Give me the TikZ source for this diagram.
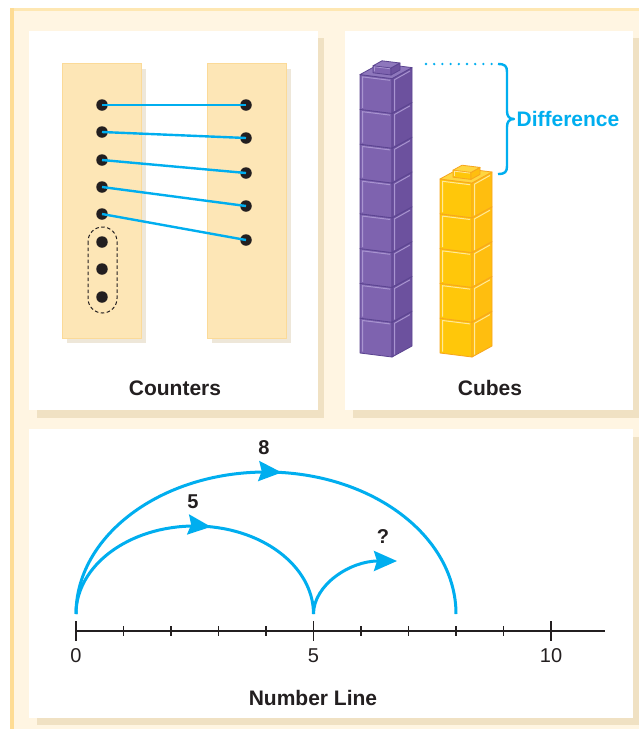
\documentclass[tikz,border=0pt]{standalone}
\usepackage{fontspec}
\setmainfont{Liberation Sans}
\usetikzlibrary{arrows.meta,decorations.markings}

% page colours
\definecolor{cream}{HTML}{FFF5E2}
\definecolor{framegold}{HTML}{FEDC94}
\definecolor{frametop}{HTML}{FEE7B2}
\definecolor{shadowtan}{HTML}{F0E1C3}
\definecolor{strip}{HTML}{FDE6B6}
\definecolor{stripedge}{HTML}{FBDA98}
\definecolor{stripshadow}{HTML}{EEE7D9}
\definecolor{cyanline}{HTML}{00AEEF}
\definecolor{ink}{HTML}{231F20}
% purple cubes
\definecolor{pfront}{HTML}{7E63AF}
\definecolor{pside}{HTML}{6C519E}
\definecolor{ptop}{HTML}{8E77BC}
\definecolor{pedge}{HTML}{5B4490}
\definecolor{phl}{HTML}{A894D0}
% yellow cubes
\definecolor{yfront}{HTML}{FFC70A}
\definecolor{yside}{HTML}{FFBE0F}
\definecolor{ytop}{HTML}{FFD640}
\definecolor{yedge}{HTML}{F7A51E}
\definecolor{yhl}{HTML}{FFE89A}

% one linking cube, bottom-left front corner at the local origin
\newcommand{\linkcube}[1]{%
  \filldraw[fill=#1front, draw=#1edge, cubeline] (0,0) -- (32,4) -- (32,-30.8) -- (0,-34.8) -- cycle;
  \filldraw[fill=#1side, draw=#1edge, cubeline] (32,4) -- (52,-7) -- (52,-41.8) -- (32,-30.8) -- cycle;
  \draw[#1hl, line width=1pt] (2.5,-1.5) -- (2.5,-32.5) -- (30,-29.1);
  \draw[#1hl, line width=1pt] (34.5,1.5) -- (34.5,-29.7) -- (50,-38.4);
}
% top face and stud of the topmost cube
\newcommand{\linkcubetop}[1]{%
  \filldraw[fill=#1top, draw=#1edge, cubeline] (0,-34.8) -- (32,-30.8) -- (52,-41.8) -- (20,-45.8) -- cycle;
  \filldraw[fill=#1front, draw=#1edge, cubeline] (13,-36.6) -- (31,-34.4) -- (31,-41.4) -- (13,-43.6) -- cycle;
  \filldraw[fill=#1side, draw=#1edge, cubeline] (31,-34.4) -- (40,-39.4) -- (40,-46.4) -- (31,-41.4) -- cycle;
  \filldraw[fill=#1top, draw=#1edge, cubeline] (13,-43.6) -- (31,-41.4) -- (40,-46.4) -- (22,-48.6) -- cycle;
  \draw[#1hl, line width=0.8pt] (14.5,-38) -- (14.5,-42.6) -- (29.8,-40.7);
}

\tikzset{
  cubeline/.style={line width=0.8pt, line join=round},
  panel/.style={fill=white},
  panelshadow/.style={fill=shadowtan},
  counter/.style={circle, fill=ink, inner sep=0pt, minimum size=11.5pt},
  link/.style={cyanline, line width=2.4pt},
  jump/.style={cyanline, line width=3pt},
  headmark/.style={postaction={decorate}, decoration={markings,
      mark=at position #1 with {\arrow{Stealth[length=23pt,width=20pt,inset=3pt]}}}},
  caption/.style={font=\fontsize{21}{25}\selectfont\bfseries, text=ink, inner sep=0pt},
  jumplabel/.style={font=\fontsize{20}{24}\selectfont\bfseries, text=ink, inner sep=0pt},
  ticklabel/.style={font=\fontsize{20}{24}\selectfont, text=ink, inner sep=0pt},
}

\begin{document}
\begin{tikzpicture}[x=1pt, y=-1pt]
  \useasboundingbox (0,0) rectangle (639,729);
  % frame
  \fill[white] (0,0) rectangle (639,729);
  \fill[cream] (10,8) rectangle (639,729);
  \fill[frametop] (10,8) rectangle (639,11);
  \fill[framegold] (10,8) rectangle (14,729);

  % panels with their shadows
  \fill[panelshadow] (37,38) rectangle (324,418);
  \fill[panel] (29,31) rectangle (318,410);
  \fill[panelshadow] (353,38) rectangle (639,418);
  \fill[panel] (345,31) rectangle (633,410);
  \fill[panelshadow] (37,437) rectangle (639,725);
  \fill[panel] (29,429) rectangle (633,718);

  % ---------- counters ----------
  \fill[stripshadow] (67,69) rectangle (146,343);
  \filldraw[fill=strip, draw=stripedge, line width=0.8pt] (62,63) rectangle (141,338);
  \fill[stripshadow] (212,69) rectangle (291,343);
  \filldraw[fill=strip, draw=stripedge, line width=0.8pt] (207,63) rectangle (286,338);

  \foreach \i/\yy in {1/105,2/132,3/160,4/187,5/214,6/242,7/269,8/297}
    \node[counter] (l\i) at (102,\yy) {};
  \foreach \i/\yy in {1/105,2/138,3/173,4/206,5/240}
    \node[counter] (r\i) at (246,\yy) {};
  \foreach \i in {1,...,5}
    \draw[link] (l\i.center) -- (r\i.center);
  \draw[ink, line width=1pt, dash pattern=on 3.5pt off 2.5pt, rounded corners=14.5pt]
    (88,227) rectangle (117,313);
  \node[caption] (counters) at (175,388) {Counters};

  % ---------- cubes ----------
  \foreach \k in {0,...,7} {
    \begin{scope}[shift={(360,{353-34.8*\k})}]
      \linkcube{p}
    \end{scope}
  }
  \begin{scope}[shift={(360,{353-34.8*7})}]
    \linkcubetop{p}
  \end{scope}
  \foreach \k in {0,...,4} {
    \begin{scope}[shift={(440,{353-34.8*\k})}]
      \linkcube{y}
    \end{scope}
  }
  \begin{scope}[shift={(440,{353-34.8*4})}]
    \linkcubetop{y}
  \end{scope}

  \coordinate (dotstart) at (426,64);
  \coordinate (bracetop) at (498,64);
  \coordinate (bracebot) at (498,174);
  \draw[cyanline, line width=2.6pt, line cap=round, dash pattern=on 0pt off 8.2pt]
    (dotstart) -- (bracetop);
  \draw[cyanline, line width=2.4pt, line join=round]
    (bracetop) .. controls (505,64) and (507,66) .. (507,72) -- (507,111)
    .. controls (507,116) and (509,119) .. (514,119)
    .. controls (509,119) and (507,122) .. (507,127) -- (507,166)
    .. controls (507,172) and (505,174) .. (bracebot);
  \node[caption, text=cyanline] (difference) at (568,119) {Difference};
  \node[caption] (cubes) at (490,388) {Cubes};

  % ---------- number line ----------
  \coordinate (n0) at (76,631);
  \coordinate (axisend) at (605,631);
  \draw[ink, line width=1.3pt] (n0) -- (axisend);
  \foreach \t in {1,2,3,4,6,7,8,9}
    \draw[ink, line width=1.1pt] ({76+47.5*\t},626) -- ({76+47.5*\t},636);
  \foreach \t in {0,5,10}
    \draw[ink, line width=1.1pt] ({76+47.5*\t},621) -- ({76+47.5*\t},641);
  \node[ticklabel] (t0) at (76,656) {0};
  \node[ticklabel] (t5) at (313.5,656) {5};
  \node[ticklabel] (t10) at (551,656) {10};

  \coordinate (p0) at (76,614);
  \coordinate (p5) at (313.5,614);
  \coordinate (p8) at (456,614);
  \coordinate (qend) at (397,561);
  \draw[jump, headmark=0.53]
    (p0) .. controls (76,535.6) and (161.1,472) .. (266,472)
         .. controls (370.9,472) and (456,535.6) .. (p8);
  \draw[jump, headmark=0.55]
    (p0) .. controls (76,565.4) and (129.2,526) .. (194.75,526)
         .. controls (260.3,526) and (313.5,565.4) .. (p5);
  \draw[jump, -{Stealth[length=23pt,width=20pt,inset=3pt]}]
    (p5) .. controls (313.5,584.7) and (350.4,561) .. (qend);
  \node[jumplabel] (eight) at (264,448) {8};
  \node[jumplabel] (five) at (193,502) {5};
  \node[jumplabel] (unknown) at (383,537) {?};
  \node[caption] (numberline) at (313,698) {Number Line};
\end{tikzpicture}
\end{document}
